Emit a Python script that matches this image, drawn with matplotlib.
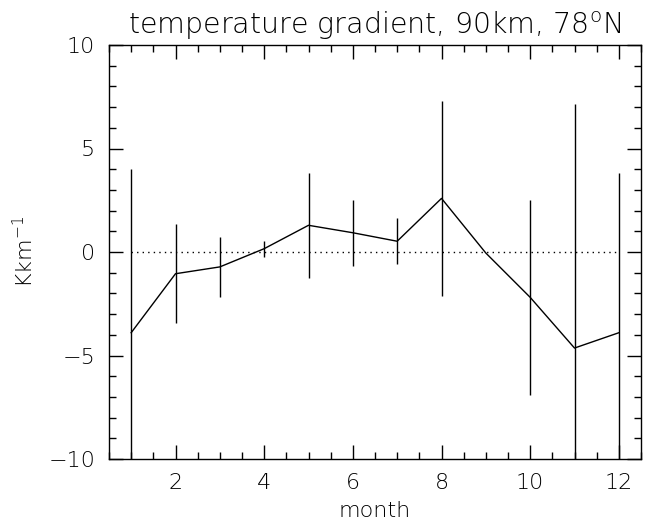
import numpy as np
import matplotlib.pyplot as plt
from matplotlib.ticker import MultipleLocator

# monthly mean temperature gradient at 90 km, 78N, with 1-sigma spread
months = [1, 2, 3, 4, 5, 6, 7, 8, 9, 10, 11, 12]
gradient = [-3.9, -1.05, -0.72, 0.16, 1.29, 0.93, 0.52, 2.59, -0.05, -2.19, -4.64, -3.9]
spread = [7.9, 2.4, 1.46, 0.38, 2.55, 1.6, 1.11, 4.72, 0.0, 4.7, 11.8, 7.7]

plt.rcParams['font.family'] = ['DejaVu Sans']
plt.rcParams['font.weight'] = 200
plt.rcParams['axes.titleweight'] = 200
plt.rcParams['axes.labelweight'] = 200
plt.rcParams['mathtext.fontset'] = 'custom'
plt.rcParams['mathtext.rm'] = 'DejaVu Sans:weight=200'
plt.rcParams['mathtext.default'] = 'rm'
plt.rcParams['font.size'] = 16

fig = plt.figure(figsize=(6.45, 5.24), dpi=100)
ax = fig.add_axes([109 / 645, 65 / 524, 532 / 645, 414 / 524])

ax.plot(months, gradient, color='black', lw=1.0)
ax.errorbar(months, gradient, yerr=spread, fmt='none', ecolor='black', elinewidth=1.0, capsize=0)
ax.plot([months[0], months[-1]], [0, 0], color='black', lw=1.0, linestyle=(0, (1, 3)))

ax.set_xlim(0.5, 12.5)
ax.set_ylim(-10, 10)
ax.xaxis.set_major_locator(MultipleLocator(2))
ax.xaxis.set_minor_locator(MultipleLocator(0.5))
ax.yaxis.set_major_locator(MultipleLocator(5))
ax.yaxis.set_minor_locator(MultipleLocator(1))
ax.tick_params(which='both', direction='in', top=True, right=True, width=1.0)
ax.tick_params(which='major', length=10)
ax.tick_params(which='minor', length=5)
ax.tick_params(axis='x', pad=10)
ax.tick_params(axis='y', pad=10)
for s in ax.spines.values():
    s.set_linewidth(1.0)

ax.set_xlabel('month', labelpad=6)
ax.set_ylabel('Kkm$^{-1}$', labelpad=8)
ax.set_title('temperature gradient, 90km, 78$^{\\mathrm{o}}$N', fontsize=20.5, pad=8)

fig.savefig('out.png', dpi=100)
